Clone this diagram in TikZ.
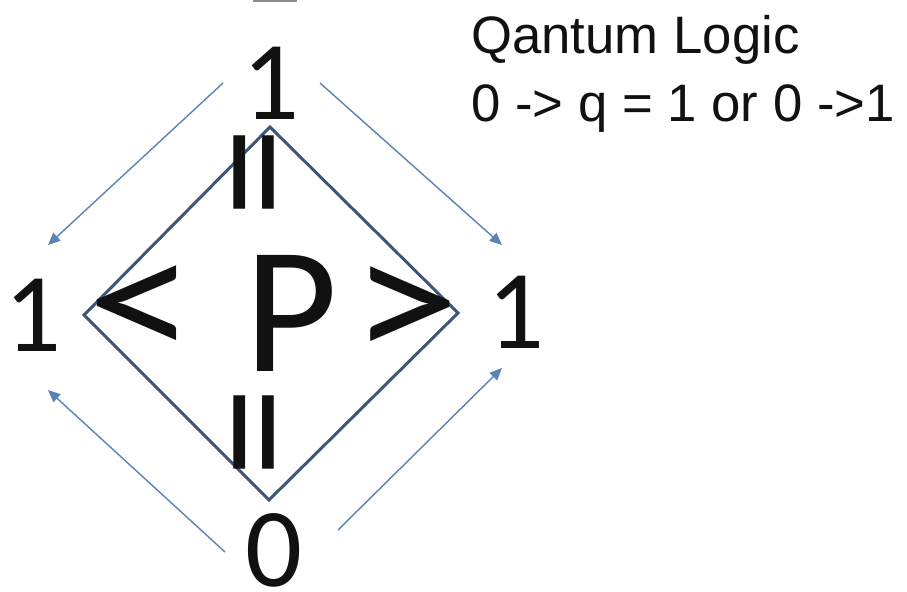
\documentclass[tikz,border=0pt]{standalone}
\usepackage{fontspec}
\usepackage{tikz}
\usetikzlibrary{arrows.meta,positioning}
\setmainfont{Liberation Sans}
\newfontfamily\calibfont{Carlito}
\definecolor{qdiamond}{HTML}{3E5677}
\definecolor{qarrow}{HTML}{5A82B4}
\definecolor{qink}{HTML}{111111}
\definecolor{qgray}{HTML}{8C8C8C}

\tikzset{
  bigsym/.style={font=\calibfont\fontsize{103}{103}\selectfont,qink,inner sep=0pt},
  corner/.style={font=\calibfont\fontsize{64}{64}\selectfont,qink,inner sep=0pt},
  titletext/.style={font=\fontsize{30}{36}\selectfont,qink,anchor=base west,inner sep=0pt},
  flow/.style={-{Triangle[length=7pt,width=6pt]},qarrow,line width=0.8pt}
}

\begin{document}
\begin{tikzpicture}[x=0.02cm,y=-0.02cm]
        \useasboundingbox (0,0) rectangle (907,592);

        % stray mark at the top edge
        \draw[qgray,line width=1pt] (253,1) -- (297,1);

        % Diamond
        \coordinate (dtop) at (270,127);
        \coordinate (dright) at (458,313);
        \coordinate (dbot) at (269,500);
        \coordinate (dleft) at (84,315);
        \draw[qdiamond,line width=1.7pt,line join=miter]
          (dtop) -- (dright) -- (dbot) -- (dleft) -- cycle;

        % Inner symbols
        \node[bigsym,xscale=1.2] (less) at (142,313) {<};
        \node[bigsym] (pee) at (291,313) {P};
        \node[bigsym,xscale=1.2] (more) at (406,314) {>};
        \node[bigsym,rotate=90] (eqtop) at (273,172) {=};
        \node[bigsym,rotate=90] (eqbot) at (273,432) {=};

        % Corner values
        \node[corner] (onetop) at (271,83) {1};
        \node[corner] (oneleft) at (33,315) {1};
        \node[corner] (oneright) at (516,312) {1};
        \node[corner] (zerobot) at (274,550) {0};

        % Arrows round the diamond
        \coordinate (tlfrom) at (223,83);
        \coordinate (tlto) at (48,245);
        \coordinate (trfrom) at (320,83);
        \coordinate (trto) at (502,245);
        \coordinate (blfrom) at (225,552);
        \coordinate (blto) at (48,390);
        \coordinate (brfrom) at (338,530);
        \coordinate (brto) at (502,368);
        \draw[flow] (tlfrom) -- (tlto);
        \draw[flow] (trfrom) -- (trto);
        \draw[flow] (blfrom) -- (blto);
        \draw[flow] (brfrom) -- (brto);

        % Title
        \node[titletext] (title) at (471,53) {Qantum Logic};
        \node[titletext] (rule) at (471,121) {0 -> q = 1 or 0 ->1};
      \end{tikzpicture}
\end{document}
